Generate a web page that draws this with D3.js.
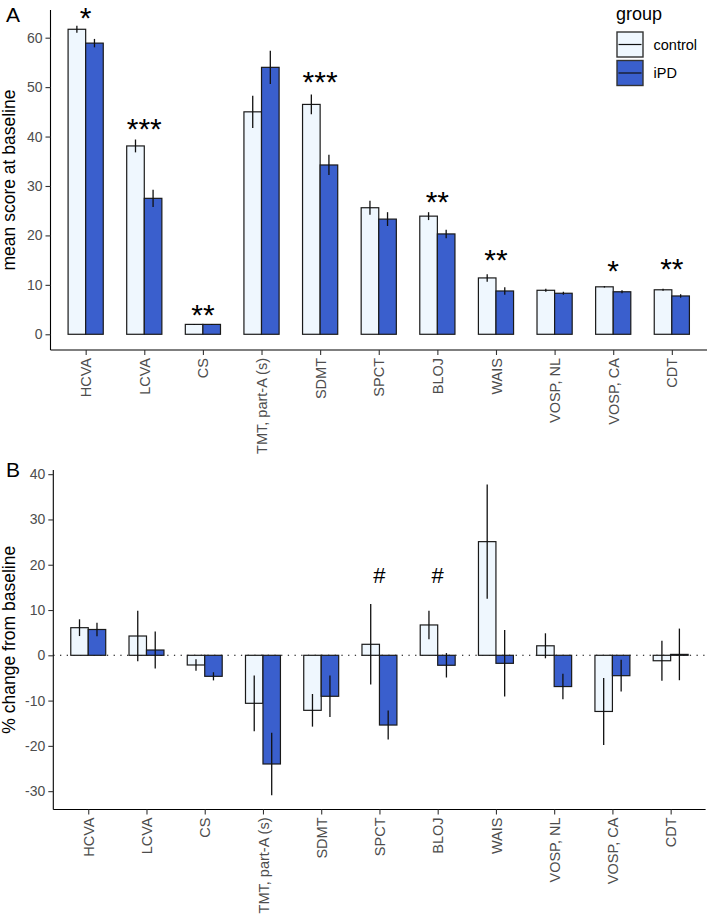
<!DOCTYPE html>
<html>
<head>
<meta charset="utf-8">
<script src="https://cdn.jsdelivr.net/npm/d3@7"></script>
<style>
  html, body { margin: 0; padding: 0; background: #fff; }
  svg { display: block; font-family: "Liberation Sans", Arial, sans-serif; }
</style>
</head>
<body>
<svg id="chart" width="709" height="924"></svg>
<script>
// ---------- data ----------
const categories = ["HCVA", "LCVA", "CS", "TMT, part-A (s)", "SDMT", "SPCT", "BLOJ", "WAIS", "VOSP, NL", "VOSP, CA", "CDT"];
const groups = ["control", "iPD"];

// Panel A: mean score at baseline
const baseControl    = [61.7, 38.1, 2.0, 45.0, 46.5, 25.6, 23.9, 11.4, 8.9, 9.6, 9.0];
const baseControlErr = [0.7, 1.3, 0.1, 3.25, 2.0, 1.4, 0.8, 0.75, 0.3, 0.15, 0.2];
const baseIPD        = [58.9, 27.5, 2.0, 54.0, 34.25, 23.3, 20.3, 8.76, 8.3, 8.6, 7.75];
const baseIPDErr     = [0.85, 1.75, 0.1, 3.35, 2.05, 1.4, 0.85, 0.75, 0.3, 0.3, 0.35];
const baseSig        = ["*", "***", "**", "", "***", "", "**", "**", "", "*", "**"];
const baseSigY       = [65.4, 42.9, 5.3, 0, 52.5, 0, 28.2, 16.4, 0, 14.2, 14.6];

// Panel B: % change from baseline
const chgControl    = [6.1, 4.26, -2.14, -10.6, -12.15, 2.43, 6.7, 25.1, 2.1, -12.4, -1.2];
const chgControlErr = [1.85, 5.6, 1.25, 6.15, 3.6, 8.9, 3.15, 12.6, 2.76, 7.4, 4.4];
const chgIPD        = [5.7, 1.17, -4.64, -24.0, -9.05, -15.4, -2.2, -1.77, -6.9, -4.5, 0.2];
const chgIPDErr     = [1.5, 4.1, 0.9, 6.9, 4.6, 3.2, 2.7, 7.35, 2.8, 3.5, 5.7];
const chgSig        = ["", "", "", "", "", "#", "#", "", "", "", ""];
const chgSigY       = [0, 0, 0, 0, 0, 17.7, 17.7, 0, 0, 0, 0];

const yTicksA = [0, 10, 20, 30, 40, 50, 60];
const yTicksB = [-30, -20, -10, 0, 10, 20, 30, 40];

// ---------- styles ----------
const fillColor = { control: "#EFF7FE", iPD: "#3A5FCD" };
const tickTextColor = "#4D4D4D";

const svg = d3.select("#chart");

function drawPanel(opts) {
  const { left, right, top, bottom, yDomain, yTicks, ctrl, ctrlErr, ipd, ipdErr,
          sig, sigY, sigSize, sigGlyphCenter, title, letter, letterY, zeroLine } = opts;
  const g = svg.append("g");

  const x = d3.scalePoint().domain(categories).range([left, right]).padding(0.6);
  const step = x.step();
  const bw = 0.3 * step;
  const y = d3.scaleLinear().domain(yDomain).range([bottom, top]);

  const rows = categories.map((c, i) => ({
    cat: c,
    vals: [
      { grp: "control", v: ctrl[i], e: ctrlErr[i], off: -bw },
      { grp: "iPD", v: ipd[i], e: ipdErr[i], off: 0 }
    ]
  }));

  if (zeroLine) {
    g.append("line")
      .attr("x1", left).attr("x2", right)
      .attr("y1", y(0)).attr("y2", y(0))
      .attr("stroke", "#000").attr("stroke-width", 1.1)
      .attr("stroke-dasharray", "1.3,5.4");
  }

  const cg = g.selectAll("g.cat").data(rows).join("g").attr("class", "cat");
  cg.selectAll("rect").data(d => d.vals.map(v => Object.assign({ cat: d.cat }, v))).join("rect")
    .attr("x", d => x(d.cat) + d.off)
    .attr("width", bw)
    .attr("y", d => Math.min(y(d.v), y(0)))
    .attr("height", d => Math.max(Math.abs(y(d.v) - y(0)), 0.5))
    .attr("fill", d => fillColor[d.grp])
    .attr("stroke", "#1a1a1a")
    .attr("stroke-width", 1.2);

  cg.selectAll("line.err").data(d => d.vals.map(v => Object.assign({ cat: d.cat }, v))).join("line")
    .attr("class", "err")
    .attr("x1", d => x(d.cat) + d.off + bw / 2)
    .attr("x2", d => x(d.cat) + d.off + bw / 2)
    .attr("y1", d => y(d.v - d.e))
    .attr("y2", d => y(d.v + d.e))
    .attr("stroke", "#111")
    .attr("stroke-width", 1.3);

  g.selectAll("text.sig").data(categories.map((c, i) => ({ cat: c, s: sig[i], yv: sigY[i] })).filter(d => d.s))
    .join("text").attr("class", "sig")
    .attr("x", d => x(d.cat))
    .attr("y", d => y(d.yv) + sigGlyphCenter * sigSize)
    .attr("text-anchor", "middle")
    .attr("font-size", sigSize)
    .attr("fill", "#000")
    .text(d => d.s);

  const yAxis = g.append("g").attr("transform", `translate(${left},0)`)
    .call(d3.axisLeft(y).tickValues(yTicks).tickSize(5).tickPadding(3).tickFormat(d3.format("d")));
  yAxis.select(".domain").attr("d", `M0,${bottom}V${top}`).attr("stroke", "#000").attr("stroke-width", 1.1);
  yAxis.selectAll(".tick line").attr("stroke", "#333").attr("stroke-width", 1.1);
  yAxis.selectAll(".tick text").attr("fill", tickTextColor).attr("font-size", 14)
    .attr("font-family", "'Liberation Sans', Arial, sans-serif")
    .text(d => (d < 0 ? "-" + Math.abs(d) : String(d)));

  const xAxis = g.append("g").attr("transform", `translate(0,${bottom})`)
    .call(d3.axisBottom(x).tickSize(5));
  xAxis.select(".domain").attr("d", `M${left},0H${right}`).attr("stroke", "#000").attr("stroke-width", 1.1);
  xAxis.selectAll(".tick line").attr("stroke", "#333").attr("stroke-width", 1.1);
  xAxis.selectAll(".tick text")
    .attr("fill", tickTextColor).attr("font-size", 14.5)
    .attr("font-family", "'Liberation Sans', Arial, sans-serif")
    .attr("transform", "rotate(-90)")
    .attr("x", -8).attr("y", 0).attr("dy", "0.35em")
    .attr("text-anchor", "end");

  g.append("text")
    .attr("transform", `translate(15,${(top + bottom) / 2}) rotate(-90)`)
    .attr("text-anchor", "middle")
    .attr("font-size", 17.5)
    .attr("fill", "#000")
    .text(title);

  g.append("text")
    .attr("x", 6).attr("y", letterY)
    .attr("font-size", 21)
    .attr("fill", "#000")
    .text(letter);
}

drawPanel({
  left: 50.5, right: 707, top: 10, bottom: 350,
  yDomain: [-3.18, 65.6], yTicks: yTicksA,
  ctrl: baseControl, ctrlErr: baseControlErr, ipd: baseIPD, ipdErr: baseIPDErr,
  sig: baseSig, sigY: baseSigY, sigSize: 30, sigGlyphCenter: 0.57,
  title: "mean score at baseline", letter: "A", letterY: 21.7, zeroLine: false
});

drawPanel({
  left: 53.3, right: 705.6, top: 470, bottom: 809.5,
  yDomain: [-34.05, 40.92], yTicks: yTicksB,
  ctrl: chgControl, ctrlErr: chgControlErr, ipd: chgIPD, ipdErr: chgIPDErr,
  sig: chgSig, sigY: chgSigY, sigSize: 22, sigGlyphCenter: 0.36,
  title: "% change from baseline", letter: "B", letterY: 476.7, zeroLine: true
});

// ---------- legend ----------
const legend = svg.append("g").attr("transform", "translate(617,0)");
legend.append("text").attr("x", -1).attr("y", 19.5)
  .attr("font-size", 18).attr("fill", "#000").text("group");
const keyW = 26, keyH = 25;
const items = legend.selectAll("g.item").data(groups).join("g").attr("class", "item")
  .attr("transform", (d, i) => `translate(0,${32 + i * 28.5})`);
items.append("rect").attr("width", keyW).attr("height", keyH)
  .attr("fill", d => fillColor[d]).attr("stroke", "#333").attr("stroke-width", 1.4);
items.append("line").attr("x1", 1.5).attr("x2", keyW - 1.5)
  .attr("y1", keyH / 2).attr("y2", keyH / 2)
  .attr("stroke", "#111").attr("stroke-width", 1.2);
items.append("text").attr("x", 36.5).attr("y", keyH / 2).attr("dy", "0.35em")
  .attr("font-size", 14.5).attr("fill", "#000").text(d => d);
</script>
</body>
</html>
